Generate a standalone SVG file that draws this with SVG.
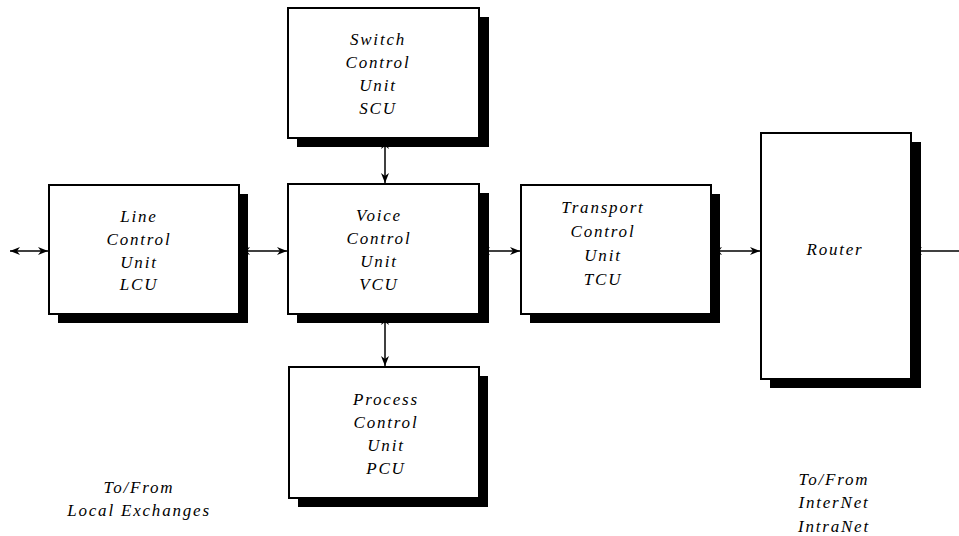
<svg xmlns="http://www.w3.org/2000/svg" width="959" height="536" viewBox="0 0 959 536">
<style>
.box{fill:#fff;stroke:#000;stroke-width:2}
.sh{fill:#000}
.t{font-family:"Liberation Serif","Times New Roman",serif;font-style:italic;font-size:17px;letter-spacing:1.8px;text-anchor:middle;fill:#000}
.c{stroke:#000;stroke-width:1.5;fill:none;marker-start:url(#a);marker-end:url(#a)}
</style>
<defs>
<marker id="a" viewBox="0 0 10 8" refX="10" refY="4" markerWidth="10" markerHeight="8" markerUnits="userSpaceOnUse" orient="auto-start-reverse">
<path d="M0,0 L10,4 L0,8 L3,4 Z" fill="#000"/>
</marker>
</defs>
<rect width="959" height="536" fill="#fff"/>
<g id="connectors">
<line class="c" x1="10" y1="251" x2="48" y2="251"/>
<line class="c" x1="240" y1="251" x2="287" y2="251"/>
<line class="c" x1="480" y1="251" x2="520" y2="251"/>
<line class="c" x1="712" y1="251" x2="760" y2="251"/>
<line class="c" x1="912" y1="251" x2="970" y2="251"/>
<line class="c" x1="385" y1="139" x2="385" y2="183"/>
<line class="c" x1="385" y1="315" x2="385" y2="366"/>
</g>
<g id="scu">
<rect class="sh" x="297" y="17" width="192" height="130"/>
<rect class="box" x="288" y="8" width="191" height="130"/>
<text class="t" x="378" y="45">Switch</text>
<text class="t" x="378" y="68">Control</text>
<text class="t" x="378" y="91">Unit</text>
<text class="t" x="378" y="114">SCU</text>
</g>
<g id="lcu">
<rect class="sh" x="58" y="194" width="190" height="129"/>
<rect class="box" x="49" y="185" width="190" height="129"/>
<text class="t" x="139" y="222">Line</text>
<text class="t" x="139" y="245">Control</text>
<text class="t" x="139" y="268">Unit</text>
<text class="t" x="139" y="290">LCU</text>
</g>
<g id="vcu">
<rect class="sh" x="297" y="193" width="192" height="130"/>
<rect class="box" x="288" y="184" width="191" height="130"/>
<text class="t" x="379" y="221">Voice</text>
<text class="t" x="379" y="244">Control</text>
<text class="t" x="379" y="267">Unit</text>
<text class="t" x="379" y="290">VCU</text>
</g>
<g id="tcu">
<rect class="sh" x="530" y="194" width="190" height="129"/>
<rect class="box" x="521" y="185" width="190" height="129"/>
<text class="t" x="603" y="213">Transport</text>
<text class="t" x="603" y="237">Control</text>
<text class="t" x="603" y="261">Unit</text>
<text class="t" x="603" y="285">TCU</text>
</g>
<g id="router">
<rect class="sh" x="770" y="142" width="151" height="246"/>
<rect class="box" x="761" y="133" width="150" height="246"/>
<text class="t" x="835" y="255">Router</text>
</g>
<g id="pcu">
<rect class="sh" x="298" y="376" width="190" height="131"/>
<rect class="box" x="289" y="367" width="190" height="131"/>
<text class="t" x="386" y="405">Process</text>
<text class="t" x="386" y="428">Control</text>
<text class="t" x="386" y="451">Unit</text>
<text class="t" x="386" y="474">PCU</text>
</g>
<g id="labels">
<text class="t" x="139" y="493">To/From</text>
<text class="t" x="139" y="516">Local Exchanges</text>
<text class="t" x="834" y="485">To/From</text>
<text class="t" x="834" y="508">InterNet</text>
<text class="t" x="834" y="532">IntraNet</text>
</g>
</svg>
